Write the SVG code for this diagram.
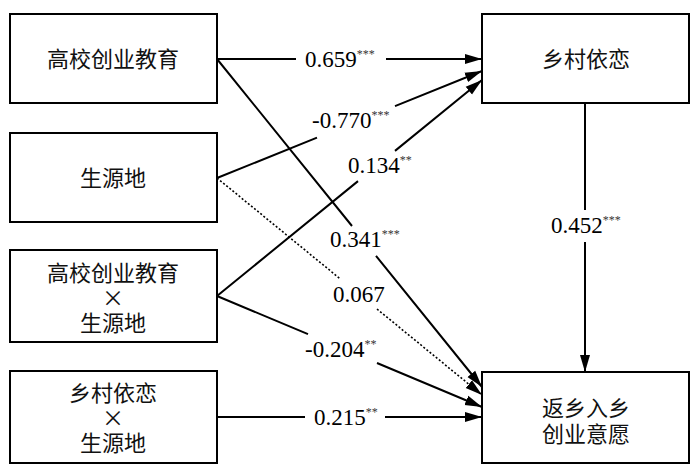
<svg xmlns="http://www.w3.org/2000/svg" width="700" height="475" viewBox="0 0 700 475">
<style>
  .box { fill: #fff; stroke: #000; stroke-width: 2; }
  .cn { font-family: "Noto Sans CJK SC", "Noto Sans", sans-serif; font-size: 22px; fill: #111; text-anchor: middle; }
  .num { font-family: "Liberation Serif", "Times New Roman", serif; font-size: 23px; fill: #000; }
  .sup { font-size: 12px; fill: #333; }
  .conn { fill: none; stroke: #000; stroke-width: 2; marker-end: url(#arrow); }
  .dot { stroke-width: 1.6; stroke-dasharray: 2 2; }
</style>
<defs>
  <marker id="arrow" markerUnits="userSpaceOnUse" markerWidth="18" markerHeight="12" refX="17" refY="5" orient="auto" viewBox="0 0 18 10">
    <path d="M0,0 L17,5 L0,10 z" fill="#000" stroke="none"/>
  </marker>
</defs>
<rect width="700" height="475" fill="#fff"/>

<g id="connectors">
  <path class="conn" d="M217,59 L296,59 M386,59 L482,59"/>
  <path class="conn" d="M217,178 L317,137.6 M395,106.1 L482,71"/>
  <path class="conn" d="M217,296 L358,181.1 M395,150.9 L482,80"/>
  <path class="conn" d="M217,59 L352,226 M376,255.8 L482,387"/>
  <path class="conn dot" d="M217,178 L340,278.7 M377,309 L482,395"/>
  <path class="conn" d="M217,296 L308,334.1 M377,363 L482,407"/>
  <path class="conn" d="M217,417 L305,417 M385,417 L482,417"/>
  <path class="conn" d="M585,103 L585,210 M585,242 L585,372"/>
</g>

<g id="labels">
  <text class="num" x="305" y="67">0.659<tspan class="sup" dy="-9">***</tspan></text>
  <text class="num" x="312" y="128">-0.770<tspan class="sup" dy="-9">***</tspan></text>
  <text class="num" x="348" y="173">0.134<tspan class="sup" dy="-9">**</tspan></text>
  <text class="num" x="330" y="247">0.341<tspan class="sup" dy="-9">***</tspan></text>
  <text class="num" x="333" y="302">0.067</text>
  <text class="num" x="305" y="357">-0.204<tspan class="sup" dy="-9">**</tspan></text>
  <text class="num" x="314" y="425">0.215<tspan class="sup" dy="-9">**</tspan></text>
  <text class="num" x="551" y="233">0.452<tspan class="sup" dy="-9">***</tspan></text>
</g>

<g id="node-edu">
  <rect class="box" x="10" y="14" width="207" height="89"/>
  <text class="cn" x="113" y="67">高校创业教育</text>
</g>
<g id="node-origin">
  <rect class="box" x="10" y="133" width="207" height="89"/>
  <text class="cn" x="113" y="186">生源地</text>
</g>
<g id="node-edu-x-origin">
  <rect class="box" x="10" y="250" width="207" height="92"/>
  <text class="cn" y="281"><tspan x="113">高校创业教育</tspan><tspan x="113" dy="25">×</tspan><tspan x="113" dy="25">生源地</tspan></text>
</g>
<g id="node-attach-x-origin">
  <rect class="box" x="10" y="371" width="207" height="92"/>
  <text class="cn" y="401"><tspan x="113">乡村依恋</tspan><tspan x="113" dy="25">×</tspan><tspan x="113" dy="25">生源地</tspan></text>
</g>
<g id="node-attach">
  <rect class="box" x="482" y="14" width="207" height="89"/>
  <text class="cn" x="586" y="67">乡村依恋</text>
</g>
<g id="node-intent">
  <rect class="box" x="482" y="372" width="207" height="91"/>
  <text class="cn" y="416"><tspan x="586">返乡入乡</tspan><tspan x="586" dy="26">创业意愿</tspan></text>
</g>
</svg>
